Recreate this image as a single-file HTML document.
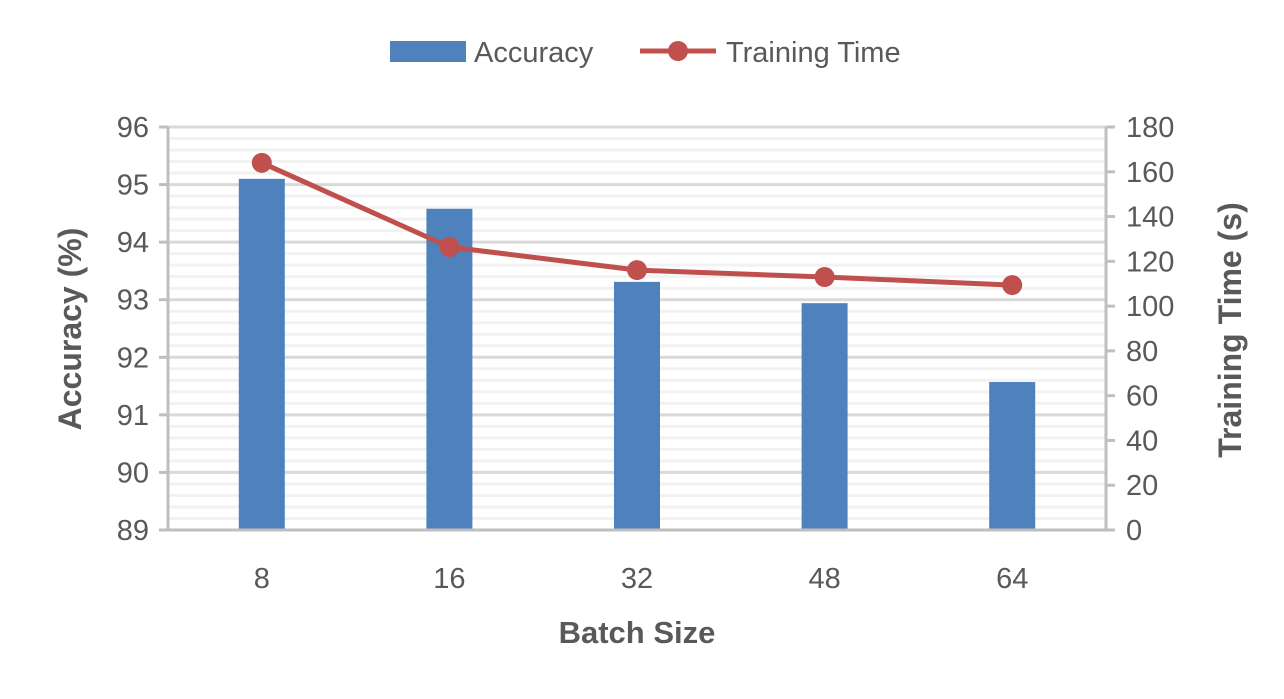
<!DOCTYPE html>
<html><head><meta charset="utf-8"><style>
body{margin:0;background:#fff;}
svg text{font-family:"Liberation Sans",sans-serif;}
</style></head><body>
<svg id="chart" width="1284" height="694" xmlns="http://www.w3.org/2000/svg">
<g id="grid"></g>
<g id="bars"></g>
<g id="axes"></g>
<g id="line"></g>
<g id="labels"></g>
<text x="637" y="643" text-anchor="middle" font-size="31" font-weight="bold" fill="#595959">Batch Size</text>
<text transform="translate(81,329) rotate(-90)" text-anchor="middle" font-size="32" font-weight="bold" fill="#595959">Accuracy (%)</text>
<text transform="translate(1241,330) rotate(-90)" text-anchor="middle" font-size="32" font-weight="bold" fill="#595959">Training Time (s)</text>
<g>
<rect x="390" y="41" width="76" height="21" fill="#4f81bd"/>
<text x="474" y="62" font-size="29" fill="#595959">Accuracy</text>
<line x1="640" y1="51" x2="716" y2="51" stroke="#c0504d" stroke-width="5"/>
<circle cx="678" cy="51" r="10" fill="#c0504d"/>
<text x="726" y="62" font-size="29" fill="#595959">Training Time</text>
</g>
</svg>
<script>
const categories=["8","16","32","48","64"];
const accuracy=[95.1,94.58,93.31,92.94,91.57];
const trainingTime=[164,126.4,116.1,113,109.4];
const yTicks=[89,90,91,92,93,94,95,96];
const y2Ticks=[0,20,40,60,80,100,120,140,160,180];
const NS="http://www.w3.org/2000/svg";
const L=168,R=1106,T=127,B=530;
const yMin=89,yMax=96,y2Min=0,y2Max=180;
const y=v=>B-(v-yMin)/(yMax-yMin)*(B-T);
const y2=v=>B-(v-y2Min)/(y2Max-y2Min)*(B-T);
const band=(R-L)/categories.length;
const x=i=>L+band*(i+0.5);
function mk(tag,attrs,parent){const e=document.createElementNS(NS,tag);for(const k in attrs)e.setAttribute(k,attrs[k]);parent.appendChild(e);return e;}
const grid=document.getElementById('grid'),bars=document.getElementById('bars'),axes=document.getElementById('axes'),line=document.getElementById('line'),labels=document.getElementById('labels');
for(let v=yMin;v<=yMax+1e-9;v+=0.2){
  const major=Math.abs(v-Math.round(v))<1e-6;
  const g=mk('line',{x1:L,x2:R,y1:y(v),y2:y(v),stroke:major?'#d9d9d9':'#f2f2f2','stroke-width':3},grid);
  
  
}
categories.forEach((c,i)=>{
  const r=mk('rect',{x:x(i)-23,y:y(accuracy[i]),width:46,height:B-y(accuracy[i]),fill:'#4f81bd'},bars);
  
  
  const t=mk('text',{x:x(i),y:588,'text-anchor':'middle','font-size':29,fill:'#595959'},labels);
  t.textContent=c;
  
  
});
const ax=[[L,T,L,B],[R,T,R,B],[L,B,R,B]];
ax.forEach((a,k)=>{const l=mk('line',{x1:a[0],y1:a[1],x2:a[2],y2:a[3],stroke:'#bfbfbf','stroke-width':3},axes);

});
yTicks.forEach(v=>{
  const tk=mk('line',{x1:L-9,x2:L,y1:y(v),y2:y(v),stroke:'#bfbfbf','stroke-width':3},axes);
  
  
  const t=mk('text',{x:149,y:y(v)+10,'text-anchor':'end','font-size':29,fill:'#595959'},labels);
  t.textContent=v;
  
  
});
y2Ticks.forEach(v=>{
  const tk=mk('line',{x1:R,x2:R+9,y1:y2(v),y2:y2(v),stroke:'#bfbfbf','stroke-width':3},axes);
  
  
  const t=mk('text',{x:1126,y:y2(v)+10,'text-anchor':'start','font-size':29,fill:'#595959'},labels);
  t.textContent=v;
  
  
});
const pts=trainingTime.map((v,i)=>x(i)+','+y2(v)).join(' ');
const pl=mk('polyline',{points:pts,fill:'none',stroke:'#c0504d','stroke-width':5,'stroke-linejoin':'round'},line);


trainingTime.forEach((v,i)=>{
  const c=mk('circle',{cx:x(i),cy:y2(v),r:10,fill:'#c0504d'},line);
  
  
});
</script>
</body></html>
